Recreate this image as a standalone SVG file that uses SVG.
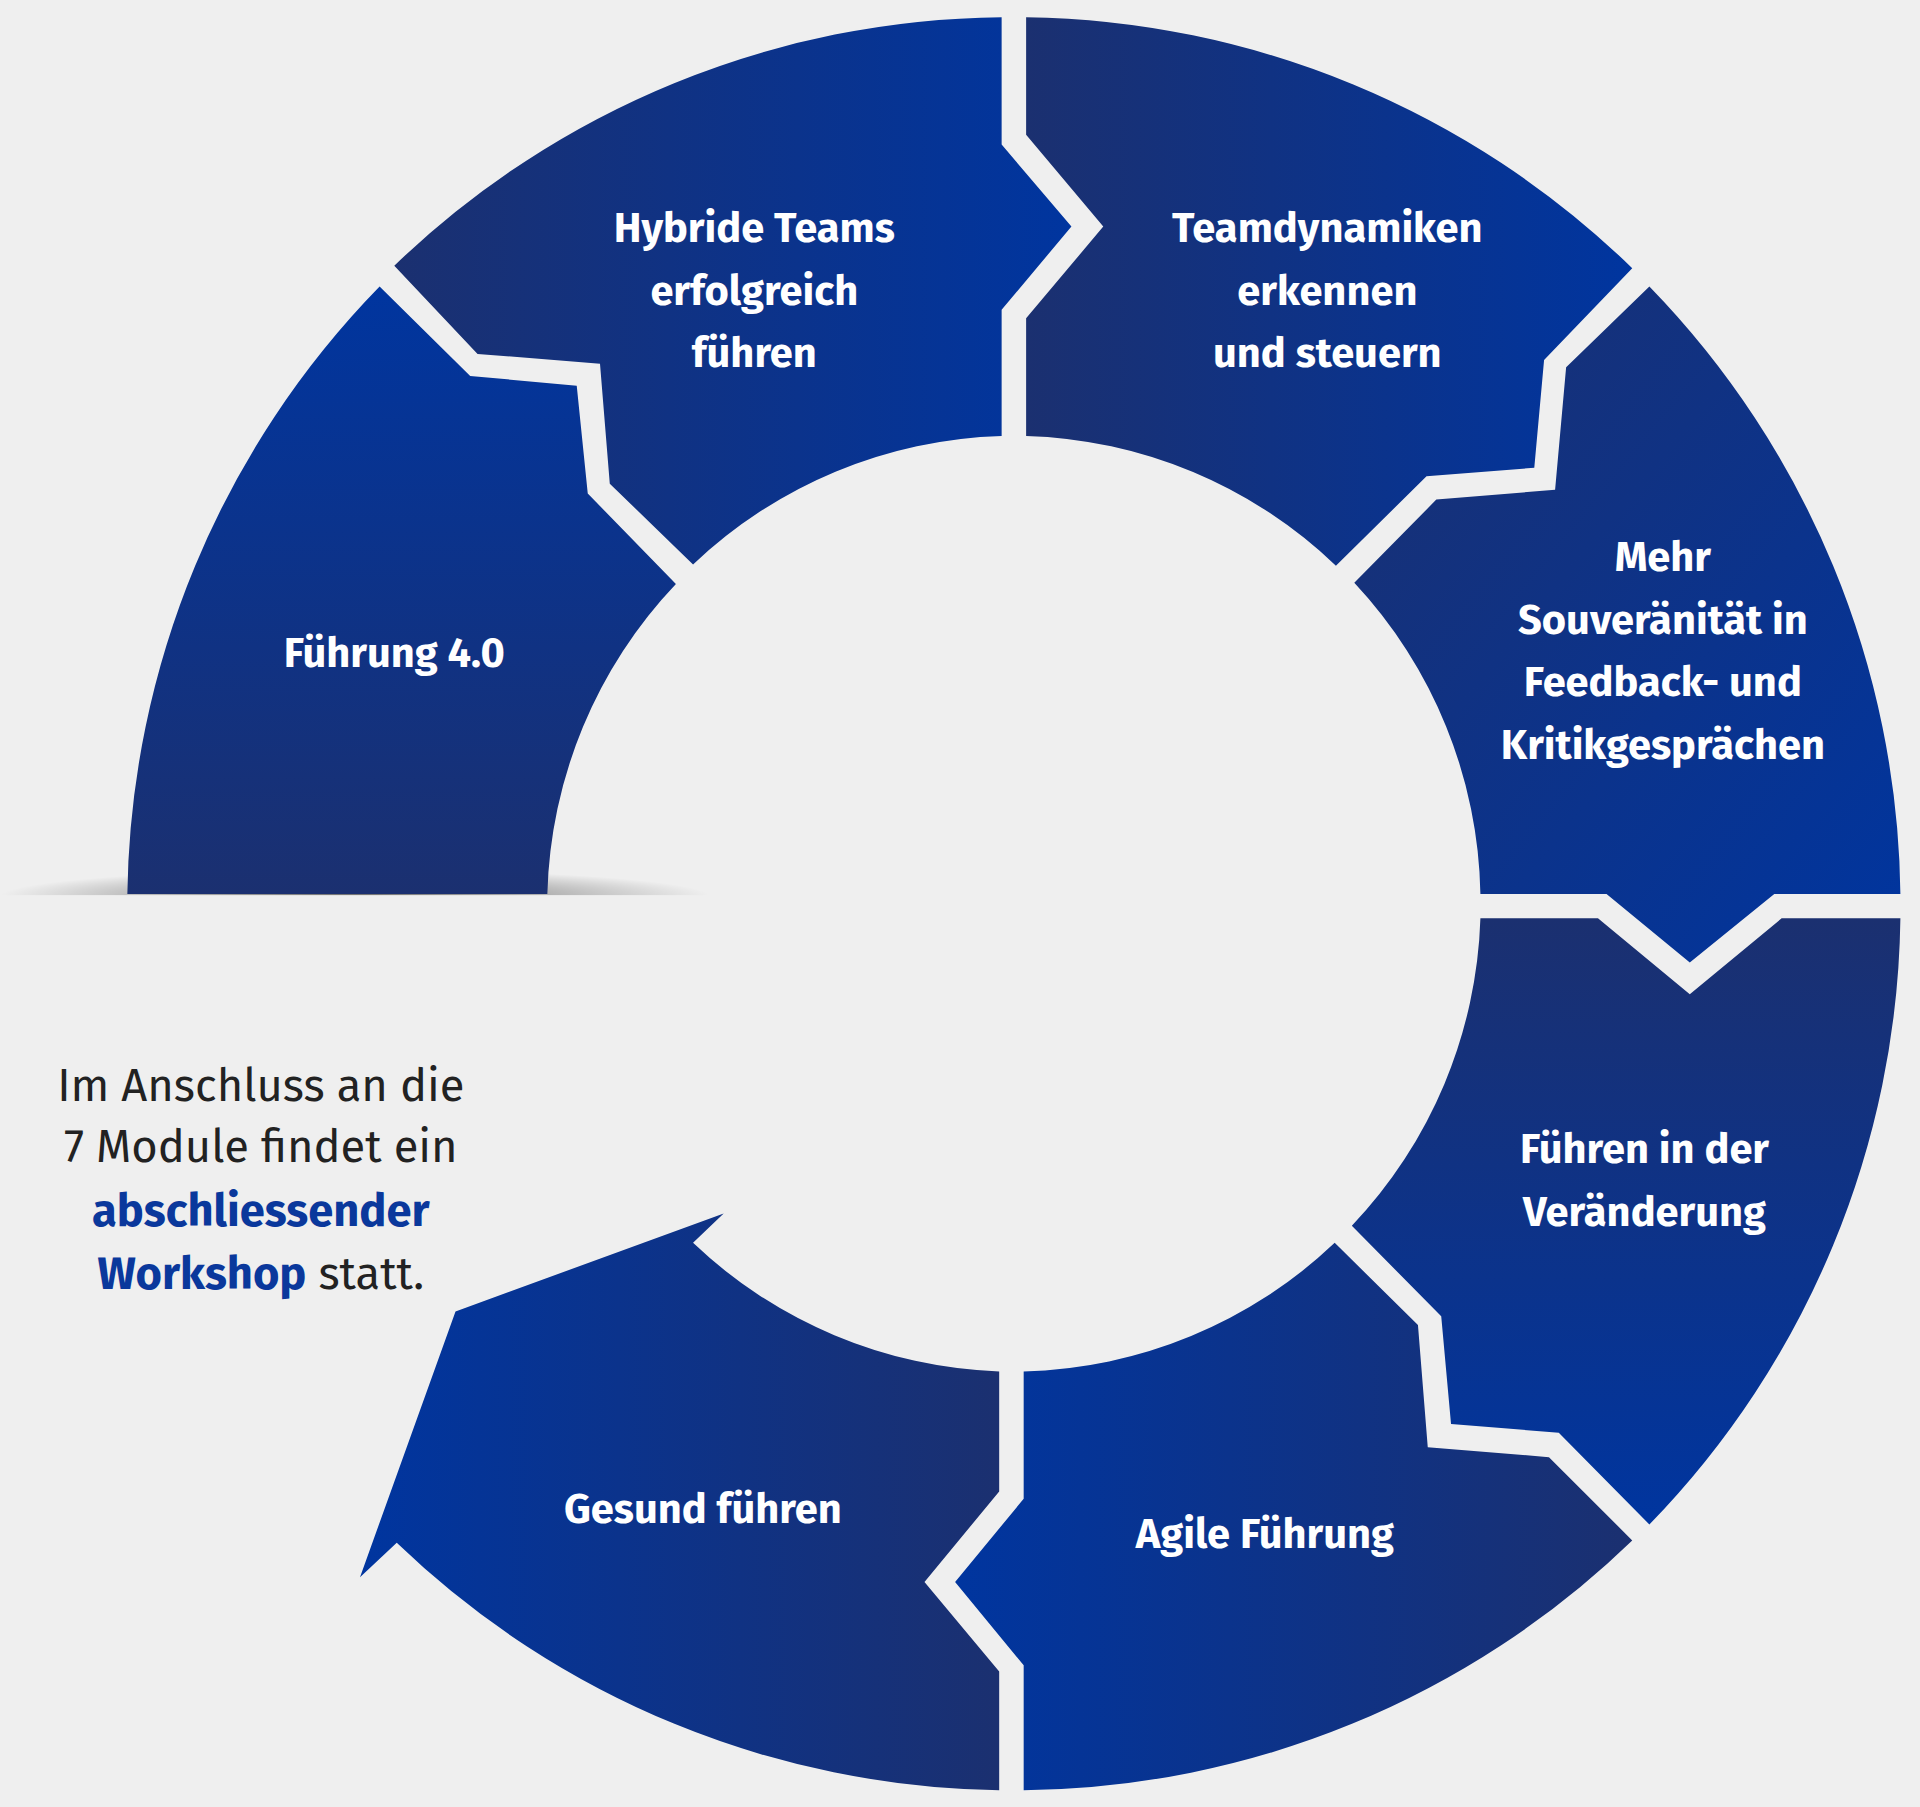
<svg xmlns="http://www.w3.org/2000/svg" width="1920" height="1807" viewBox="0 0 1920 1807">
<defs>
<linearGradient id="gH" x1="0" y1="0" x2="1" y2="0"><stop offset="0" stop-color="#1b3070"/><stop offset="1" stop-color="#00359f"/></linearGradient>
<linearGradient id="gHr" x1="0" y1="0" x2="1" y2="0"><stop offset="0" stop-color="#00359f"/><stop offset="1" stop-color="#1b3070"/></linearGradient>
<linearGradient id="gD" x1="0" y1="0" x2="1" y2="1"><stop offset="0" stop-color="#1b3070"/><stop offset="1" stop-color="#00359f"/></linearGradient>
<linearGradient id="gV" x1="0" y1="0" x2="0" y2="1"><stop offset="0" stop-color="#1b3070"/><stop offset="1" stop-color="#00359f"/></linearGradient>
<linearGradient id="gVr" x1="0" y1="0" x2="0" y2="1"><stop offset="0" stop-color="#00359f"/><stop offset="1" stop-color="#1b3070"/></linearGradient>
<radialGradient id="sh" cx="0.5" cy="0.5" r="0.5"><stop offset="0" stop-color="#000" stop-opacity="0.55"/><stop offset="1" stop-color="#000" stop-opacity="0"/></radialGradient>
<style>
.t{font-family:"Fira Sans","Noto Sans","Open Sans",sans-serif;font-weight:700;font-size:34px;fill:#fff;text-anchor:middle}
.n{font-family:"Fira Sans","Noto Sans","Open Sans",sans-serif;font-size:37px;fill:#222;text-anchor:middle}
.b{font-weight:700;fill:#0a389c}
</style>
</defs>
<rect width="1920" height="1807" fill="#efefef"/>
<g transform="scale(1.22449)">
<ellipse cx="290" cy="732" rx="290" ry="22" fill="url(#sh)"/>
<rect x="0" y="731" width="600" height="30" fill="#efefef"/>
<g id="seg1"><path d="M322,217 A724,724 0 0 1 818,14 L818,118 L875,185 L818,253 L818,356 A382,382 0 0 0 566,461 L498,395 L490,297 L390,289 Z" fill="url(#gH)"/><text class="t" x="616" y="198">Hybride Teams</text><text class="t" x="616" y="249">erfolgreich</text><text class="t" x="616" y="300">führen</text></g>
<g id="seg2"><path d="M838,14 A724,724 0 0 1 1333,219 L1261,294 L1253,382 L1165,389 L1091,462 A382,382 0 0 0 838,356 L838,260 L901,185 L838,110 Z" fill="url(#gH)"/><text class="t" x="1084" y="198">Teamdynamiken</text><text class="t" x="1084" y="249">erkennen</text><text class="t" x="1084" y="300">und steuern</text></g>
<g id="seg3"><path d="M1347,234 A724,724 0 0 1 1552,730 L1449,730 L1380,786 L1312,730 L1209,730 A382,382 0 0 0 1106,476 L1173,408 L1270,400 L1279,300 Z" fill="url(#gD)"/><text class="t" x="1358" y="466">Mehr</text><text class="t" x="1358" y="518">Souveränität in</text><text class="t" x="1358" y="568">Feedback- und</text><text class="t" x="1358" y="620">Kritikgesprächen</text></g>
<g id="seg4"><path d="M1552,750 A724,724 0 0 1 1347,1245 L1273,1170 L1185,1163 L1177,1075 L1104,1001 A382,382 0 0 0 1209,750 L1305,750 L1380,812 L1455,750 Z" fill="url(#gV)"/><text class="t" x="1343" y="950">Führen in der</text><text class="t" x="1343" y="1001">Veränderung</text></g>
<g id="seg5"><path d="M1333,1258 A724,724 0 0 1 836,1462 L836,1360 L780,1292 L836,1224 L836,1120 A382,382 0 0 0 1090,1015 L1158,1082 L1166,1182 L1265,1190 Z" fill="url(#gHr)"/><text class="t" x="1033" y="1264">Agile Führung</text></g>
<g id="seg6"><path d="M816,1462 A724,724 0 0 1 324,1260 L294,1288 L372,1071 L591,991 L566,1015 A382,382 0 0 0 816,1120 L816,1218 L755,1292 L816,1365 Z" fill="url(#gHr)"/><text class="t" x="574" y="1244">Gesund führen</text></g>
<g id="seg7"><path d="M104,730 A724,724 0 0 1 310,234 L384,307 L471,315 L480,403 L552,477 A382,382 0 0 0 447,730 Z" fill="url(#gVr)"/><text class="t" x="322" y="545">Führung 4.0</text></g>
<g id="note"><text class="n" x="213" y="899">Im Anschluss an die</text><text class="n" x="213" y="949">7 Module findet ein</text><text class="n b" x="213" y="1001">abschliessender</text><text class="n" x="213" y="1053"><tspan class="b">Workshop</tspan> statt.</text></g>
</g>
<g id="connectors"/>
</svg>
